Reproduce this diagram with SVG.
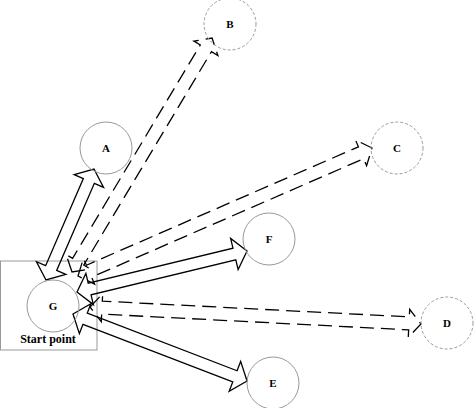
<svg xmlns="http://www.w3.org/2000/svg" width="474" height="408" viewBox="0 0 474 408">
<style>
.node{fill:none;stroke:#999;stroke-width:1}
.dash{stroke-dasharray:3,2}
.lbl{font-family:"Liberation Serif",serif;font-weight:bold;font-size:11px;fill:#000;text-anchor:middle}
.arr{fill:none;stroke:#000;stroke-width:1.3;stroke-linejoin:miter}
.darr{stroke-dasharray:14,7}
</style>
<rect width="474" height="408" fill="#fff"/>
<g id="start-box">
<rect x="0.5" y="261" width="96.5" height="89" fill="none" stroke="#999" stroke-width="1"/>
<text x="48" y="343" class="lbl" style="font-size:12px">Start point</text>
</g>
<g id="connectors">
<polygon class="arr" transform="translate(46,280) rotate(-66.6)" points="0,0 13,-16 13,-6 107.9,-6 107.9,-16 120.9,0 107.9,16 107.9,6 13,6 13,16"/>
<polygon class="arr darr" transform="translate(72,272) rotate(-59.1)" points="0,0 12,-14 12,-6.5 260.7,-6.5 260.7,-14 272.7,0 260.7,14 260.7,6.5 12,6.5 12,14"/>
<polygon class="arr darr" transform="translate(78,276) rotate(-23.53)" points="0,0 12,-14 12,-6.5 308.7,-6.5 308.7,-14 320.7,0 308.7,14 308.7,6.5 12,6.5 12,14"/>
<polygon class="arr" transform="translate(77,292) rotate(-13.56)" points="0,0 13,-16 13,-6 161.9,-6 161.9,-16 174.9,0 161.9,16 161.9,6 13,6 13,16"/>
<polygon class="arr darr" transform="translate(90,307) rotate(2.94)" points="0,0 12,-14 12,-6.5 319.4,-6.5 319.4,-14 331.4,0 319.4,14 319.4,6.5 12,6.5 12,14"/>
<polygon class="arr" transform="translate(73,314) rotate(21.06)" points="0,0 13,-16 13,-6 173.5,-6 173.5,-16 186.5,0 173.5,16 173.5,6 13,6 13,16"/>
</g>
<g id="node-A"><circle class="node" cx="106" cy="148" r="26"/><text class="lbl" x="106" y="152">A</text></g>
<g id="node-B"><circle class="node dash" cx="230" cy="24" r="26"/><text class="lbl" x="230" y="28">B</text></g>
<g id="node-C"><circle class="node dash" cx="397" cy="148" r="26"/><text class="lbl" x="397" y="152">C</text></g>
<g id="node-F"><circle class="node" cx="269" cy="239" r="26"/><text class="lbl" x="269" y="243">F</text></g>
<g id="node-D"><circle class="node dash" cx="447" cy="323" r="26"/><text class="lbl" x="447" y="327">D</text></g>
<g id="node-E"><circle class="node" cx="273" cy="383" r="26"/><text class="lbl" x="273" y="387">E</text></g>
<g id="node-G"><circle class="node" cx="53" cy="306" r="26"/><text class="lbl" x="53" y="310">G</text></g>
</svg>
